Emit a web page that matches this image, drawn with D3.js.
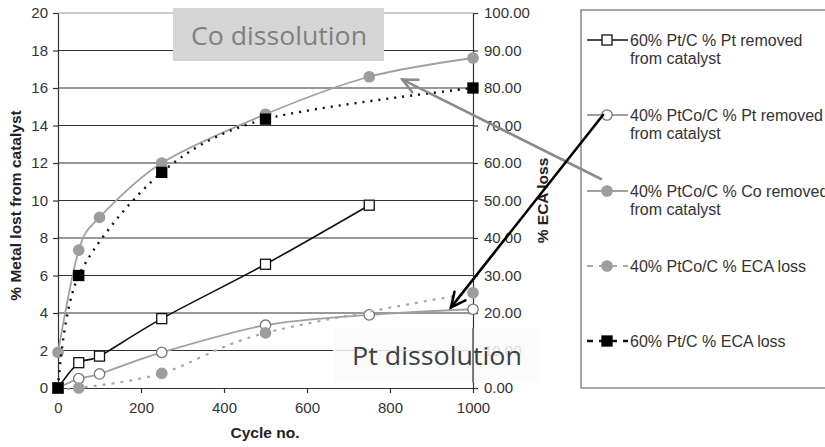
<!DOCTYPE html>
<html>
<head>
<meta charset="utf-8">
<script src="https://cdn.jsdelivr.net/npm/d3@7"></script>
<style>
  body { margin: 0; background: #fff; }
  svg { display: block; }
</style>
</head>
<body>
<svg id="chart" width="825" height="447"></svg>
<script>
// values
const ptcCycles = [0, 50, 100, 250, 500, 750];
const ptcPtRemoved = [0, 1.35, 1.7, 3.7, 6.6, 9.75];
const ptcoCycles = [0, 50, 100, 250, 500, 750, 1000];
const ptcoPtRemoved = [0, 0.5, 0.75, 1.9, 3.35, 3.9, 4.2];
const ptcoCoRemoved = [1.9, 7.35, 9.1, 12.0, 14.6, 16.6, 17.6];
const ptcoEcaCycles = [0, 50, 250, 500, 1000];
const ptcoEcaLoss = [0, 0, 3.9, 14.7, 25.4];
const ptcEcaCycles = [0, 50, 250, 500, 1000];
const ptcEcaLoss = [0, 30, 57.5, 71.7, 80];

const cycleTicks = [0, 200, 400, 600, 800, 1000];
const metalTicks = [0, 2, 4, 6, 8, 10, 12, 14, 16, 18, 20];
const ecaTicks = [0, 10, 20, 30, 40, 50, 60, 70, 80, 90, 100];

const legendLabels = [
  ["60% Pt/C % Pt removed", "from catalyst"],
  ["40% PtCo/C % Pt removed", "from catalyst"],
  ["40% PtCo/C % Co removed", "from catalyst"],
  ["40% PtCo/C % ECA loss"],
  ["60% Pt/C % ECA loss"]
];

// annotation arrow tips, in data units (cycle, % metal lost)
const coArrowTip = [830, 16.45];
const ptArrowTip = [947, 4.3];

const FONT = "'Liberation Sans', Arial, sans-serif";
const PLOT = { left: 58, right: 473, top: 13, bottom: 388 };

const svg = d3.select("#chart");

const x = d3.scaleLinear().domain([0, 1000]).range([PLOT.left, PLOT.right]);
const yLeft = d3.scaleLinear().domain([0, 20]).range([PLOT.bottom, PLOT.top]);
const yRight = d3.scaleLinear().domain([0, 100]).range([PLOT.bottom, PLOT.top]);

const series = [
  { xs: ptcCycles, ys: ptcPtRemoved, y: yLeft, stroke: "#111", width: 1.6, dash: null,
    marker: "square", fill: "#fff", mstroke: "#111" },
  { xs: ptcoCycles, ys: ptcoPtRemoved, y: yLeft, stroke: "#a0a0a0", width: 1.8, dash: null,
    marker: "circle", fill: "#fff", mstroke: "#777" },
  { xs: ptcoCycles, ys: ptcoCoRemoved, y: yLeft, stroke: "#a0a0a0", width: 1.8, dash: null,
    marker: "circle", fill: "#9d9d9d", mstroke: "#9d9d9d" },
  { xs: ptcoEcaCycles, ys: ptcoEcaLoss, y: yRight, stroke: "#a8a8a8", width: 2.2, dash: "3,6",
    marker: "circle", fill: "#9d9d9d", mstroke: "#9d9d9d" },
  { xs: ptcEcaCycles, ys: ptcEcaLoss, y: yRight, stroke: "#111", width: 2.4, dash: "2,6",
    marker: "square", fill: "#000", mstroke: "#000" }
];

// grid lines
svg.append("g")
  .selectAll("line")
  .data(metalTicks.filter(d => d > 0))
  .join("line")
  .attr("x1", PLOT.left)
  .attr("x2", PLOT.right)
  .attr("y1", d => yLeft(d))
  .attr("y2", d => yLeft(d))
  .attr("stroke", d => d === 20 ? "#9a9a9a" : "#333")
  .attr("stroke-width", 1.2);

// axes
function styleAxis(g) {
  g.select(".domain").attr("stroke", "#333").attr("stroke-width", 1.2);
  g.selectAll(".tick line").attr("stroke", "#333").attr("stroke-width", 1.2);
  g.selectAll("text").attr("font-family", FONT).attr("font-size", 15).attr("fill", "#333");
}

svg.append("g")
  .attr("transform", `translate(${PLOT.left},0)`)
  .call(d3.axisLeft(yLeft).tickValues(metalTicks).tickSize(5).tickSizeOuter(0).tickPadding(5).tickFormat(d3.format("d")))
  .call(styleAxis);

svg.append("g")
  .attr("transform", `translate(0,${PLOT.bottom})`)
  .call(d3.axisBottom(x).tickValues(cycleTicks).tickSize(5).tickSizeOuter(0).tickPadding(9).tickFormat(d3.format("d")))
  .call(styleAxis);

svg.append("g")
  .attr("transform", `translate(${PLOT.right},0)`)
  .call(d3.axisRight(yRight).tickValues(ecaTicks).tickSize(5).tickSizeOuter(0).tickPadding(6).tickFormat(d3.format(".2f")))
  .call(styleAxis);

// axis titles
svg.append("text")
  .attr("transform", `translate(21,${(PLOT.top + PLOT.bottom) / 2 + 5}) rotate(-90)`)
  .attr("text-anchor", "middle")
  .attr("font-family", FONT).attr("font-size", 15.5).attr("font-weight", "bold").attr("fill", "#222")
  .text("% Metal lost from catalyst");

svg.append("text")
  .attr("transform", `translate(548,${(PLOT.top + PLOT.bottom) / 2}) rotate(-90)`)
  .attr("text-anchor", "middle")
  .attr("font-family", FONT).attr("font-size", 15.5).attr("font-weight", "bold").attr("fill", "#222")
  .text("% ECA loss");

svg.append("text")
  .attr("x", 265)
  .attr("y", 438)
  .attr("text-anchor", "middle")
  .attr("font-family", FONT).attr("font-size", 15.5).attr("font-weight", "bold").attr("fill", "#222")
  .text("Cycle no.");

// series
function drawMarker(sel, s) {
  if (s.marker === "square") {
    sel.append("rect")
      .attr("x", -5).attr("y", -5).attr("width", 10).attr("height", 10)
      .attr("fill", s.fill).attr("stroke", s.mstroke).attr("stroke-width", 1.3);
  } else {
    sel.append("circle")
      .attr("r", 5.2)
      .attr("fill", s.fill).attr("stroke", s.mstroke).attr("stroke-width", 1.3);
  }
}

series.forEach(s => {
  const pts = s.xs.map((c, i) => [c, s.ys[i]]);
  const line = d3.line()
    .x(d => x(d[0]))
    .y(d => s.y(d[1]))
    .curve(d3.curveCardinal.tension(0.1));
  const g = svg.append("g");
  g.append("path")
    .datum(pts)
    .attr("fill", "none")
    .attr("stroke", s.stroke)
    .attr("stroke-width", s.width)
    .attr("stroke-dasharray", s.dash)
    .attr("d", line);
  g.selectAll("g.pt")
    .data(pts)
    .join("g")
    .attr("class", "pt")
    .attr("transform", d => `translate(${x(d[0])},${s.y(d[1])})`)
    .each(function () { drawMarker(d3.select(this), s); });
});

// annotation boxes
svg.append("rect")
  .attr("x", 173).attr("y", 8).attr("width", 211).attr("height", 53)
  .attr("fill", "#d5d5d5");
svg.append("text")
  .attr("x", 191).attr("y", 45)
  .attr("font-family", "'Open Sans', sans-serif").attr("font-size", 26)
  .attr("textLength", 176).attr("lengthAdjust", "spacingAndGlyphs")
  .attr("fill", "#808080")
  .text("Co dissolution");

svg.append("rect")
  .attr("x", 333).attr("y", 328).attr("width", 207).attr("height", 55)
  .attr("fill", "#fafafa").attr("opacity", 0.85);
svg.append("line")
  .attr("x1", PLOT.right).attr("x2", PLOT.right)
  .attr("y1", 328).attr("y2", 383)
  .attr("stroke", "#333").attr("stroke-width", 1.2);
svg.append("text")
  .attr("x", 352).attr("y", 365)
  .attr("font-family", "'Open Sans', sans-serif").attr("font-size", 26)
  .attr("textLength", 170).attr("lengthAdjust", "spacingAndGlyphs")
  .attr("fill", "#404040")
  .text("Pt dissolution");

// legend
const legend = svg.append("g");
legend.append("rect")
  .attr("x", 581).attr("y", 10).attr("width", 260).attr("height", 378)
  .attr("fill", "#fff").attr("stroke", "#777").attr("stroke-width", 1.3);

const legendY = [40, 115, 191, 266, 341];
legendLabels.forEach((lines, i) => {
  const s = series[i];
  const g = legend.append("g").attr("transform", `translate(0,${legendY[i]})`);
  g.append("line")
    .attr("x1", 587).attr("x2", 628)
    .attr("stroke", s.stroke).attr("stroke-width", s.width)
    .attr("stroke-dasharray", s.dash ? "6,6" : null);
  drawMarker(g.append("g").attr("transform", "translate(607,0)"), s);
  lines.forEach((t, j) => {
    g.append("text")
      .attr("x", 630).attr("y", 5.5 + j * 18)
      .attr("font-family", FONT).attr("font-size", 16).attr("fill", "#333")
      .text(t);
  });
});

// arrows
function arrow(from, to, color) {
  const ang = Math.atan2(to[1] - from[1], to[0] - from[0]);
  const len = 16, spread = 0.45;
  const a1 = [to[0] - len * Math.cos(ang - spread), to[1] - len * Math.sin(ang - spread)];
  const a2 = [to[0] - len * Math.cos(ang + spread), to[1] - len * Math.sin(ang + spread)];
  const g = svg.append("g")
    .attr("fill", "none").attr("stroke", color).attr("stroke-width", 2.6)
    .attr("stroke-linecap", "round").attr("stroke-linejoin", "miter");
  g.append("path").attr("d", d3.line()([from, to]));
  g.append("path").attr("d", d3.line()([a1, to, a2]));
}

arrow([601, legendY[2] - 12], [x(coArrowTip[0]), yLeft(coArrowTip[1])], "#8a8a8a");
arrow([603, legendY[1]], [x(ptArrowTip[0]), yLeft(ptArrowTip[1])], "#000");
</script>
</body>
</html>
